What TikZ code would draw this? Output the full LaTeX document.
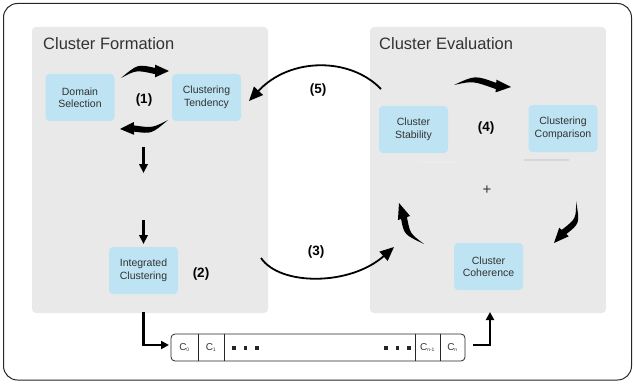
\documentclass[tikz,border=0pt]{standalone}
\usepackage{fontspec}
\setmainfont{Liberation Sans}
\usetikzlibrary{arrows.meta,calc}
\definecolor{panelgray}{HTML}{E9E9E9}
\definecolor{boxblue}{HTML}{BEE3F3}
\definecolor{txtgray}{HTML}{333333}
\newcommand\fatarr[4]{%
  \coordinate (fa-s) at #1;
  \coordinate (fa-c) at #2;
  \coordinate (fa-b) at #3;
  \coordinate (fa-t) at #4;
  \coordinate (fa-bu) at ($(fa-b)!3.1pt!90:(fa-t)$);
  \coordinate (fa-bl) at ($(fa-b)!3.1pt!-90:(fa-t)$);
  \coordinate (fa-hu) at ($(fa-b)!6.4pt!90:(fa-t)$);
  \coordinate (fa-hl) at ($(fa-b)!6.4pt!-90:(fa-t)$);
  \coordinate (fa-cu) at ($(fa-c)!3pt!90:(fa-b)$);
  \coordinate (fa-cl) at ($(fa-c)!3pt!-90:(fa-b)$);
  \fill[black] (fa-s) .. controls (fa-cu) .. (fa-bu) -- (fa-hu) -- (fa-t) -- (fa-hl) -- (fa-bl) .. controls (fa-cl) .. (fa-s) -- cycle;
}
\tikzset{
  panel/.style={fill=panelgray, draw=none, rounded corners=4pt},
  bluebox/.style={fill=boxblue, draw=none, rounded corners=4pt, minimum width=69pt, minimum height=47pt, align=center, text=txtgray, font=\fontsize{10.5}{12.5}\selectfont, inner sep=1pt},
  paneltitle/.style={anchor=west, text=txtgray, font=\fontsize{16.5}{18}\selectfont, inner sep=0pt},
  steplabel/.style={font=\fontsize{13.5}{15}\selectfont\bfseries, text=black, inner sep=0pt},
  thinarrow/.style={line width=1.8pt, -{Triangle[length=14pt,width=12pt]}},
  downarrow/.style={line width=2.6pt, -{Triangle[length=9pt,width=8.5pt]}},
  elbowarrow/.style={line width=2.4pt, -{Triangle[length=8pt,width=8pt]}},
  cell/.style={font=\fontsize{10}{12}\selectfont, text=txtgray, inner sep=0pt}
}
\begin{document}
\begin{tikzpicture}[x=1pt,y=-1pt]
\useasboundingbox (0,0) rectangle (634,385);
% outer frame
\draw[line width=1pt, rounded corners=14pt, draw=black!85] (3.5,3.5) rectangle (631.5,380);
% panels
\fill[panel] (32,27) rectangle (268,313);
\fill[panel] (370,27) rectangle (606,313);
\node[paneltitle] (t1) at (43,44) {Cluster Formation};
\node[paneltitle] (t2) at (379,44) {Cluster Evaluation};
% boxes
\node[bluebox] (ds) at (80,97.5) {Domain\\Selection};
\node[bluebox] (ct) at (206.5,97.5) {Clustering\\Tendency};
\node[bluebox] (ic) at (143.5,270.5) {Integrated\\Clustering};
\node[bluebox] (cs) at (413.5,129.5) {Cluster\\Stability};
\node[bluebox] (cc) at (563,128.5) {Clustering\\Comparison};
\node[bluebox] (ch) at (488.5,266.5) {Cluster\\Coherence};
% faint shadows
\fill[black!8] (417,161) rectangle (459,162.5);
\fill[black!16] (524,158.5) rectangle (569,161);
% labels
\node[steplabel] (l1) at (144,100) {(1)};
\node[steplabel] (l2) at (201,274) {(2)};
\node[steplabel] (l3) at (316,252) {(3)};
\node[steplabel] (l4) at (486,128) {(4)};
\node[steplabel] (l5) at (318,90) {(5)};
\node[font=\fontsize{15}{16}\selectfont, text=txtgray, inner sep=0pt] (plus) at (487,190) {+};
% fat arrows
\fatarr{(121,78)}{(137,67)}{(155,71)}{(169,71)}
\fatarr{(168,120)}{(152,131)}{(134,128.5)}{(120,129)}
\fatarr{(454,85)}{(474,78)}{(496,86)}{(511,87)}
\fatarr{(576,201)}{(578,221)}{(564,232)}{(554,243)}
\fatarr{(424,244)}{(407,234)}{(404,218)}{(399,203)}
% down arrows
\coordinate (d1s) at (143.5,147);
\coordinate (d1e) at (143.5,173);
\coordinate (d2s) at (143.5,220);
\coordinate (d2e) at (143.5,244);
\draw[downarrow] (d1s) -- (d1e);
\draw[downarrow] (d2s) -- (d2e);
% big curved arrows
\coordinate (a5s) at (381,89);
\coordinate (a5e) at (249,101);
\draw[thinarrow] (a5s) .. controls (350,57) and (290,57) .. (a5e);
\coordinate (a3s) at (261,258);
\coordinate (a3e) at (394,247);
\draw[thinarrow] (a3s) .. controls (280,286) and (350,286) .. (a3e);
% strip
\node[draw=black!85, line width=0.8pt, rounded corners=4pt, minimum width=294pt, minimum height=27pt, inner sep=0pt] (strip) at (318,347.5) {};
\draw[black!85, line width=0.7pt] (198,334) -- (198,361) (224,334) -- (224,361) (415,334) -- (415,361) (440,334) -- (440,361);
\node[cell] (c0) at (184.5,347.5) {C\textsubscript{\fontsize{5}{6}\selectfont 0}};
\node[cell] (c1) at (211,347.5) {C\textsubscript{\fontsize{5}{6}\selectfont 1}};
\node[cell] (cn1) at (427.5,347.5) {C\textsubscript{\fontsize{5}{6}\selectfont n-1}};
\node[cell] (cn) at (452.5,347.5) {C\textsubscript{\fontsize{5}{6}\selectfont n}};
\foreach \xx in {234,245.5,257,386,397.5,409}{
  \fill[black!85] (\xx-1.8,346) rectangle (\xx+1.8,349.6);
}
% elbow arrows
\coordinate (e1s) at (143.5,312);
\coordinate (e1e) at (169,345);
\draw[elbowarrow] (e1s) |- (e1e);
\coordinate (e2s) at (473,345);
\coordinate (e2e) at (490,312);
\draw[elbowarrow] (e2s) -| (e2e);
\end{tikzpicture}
\end{document}
